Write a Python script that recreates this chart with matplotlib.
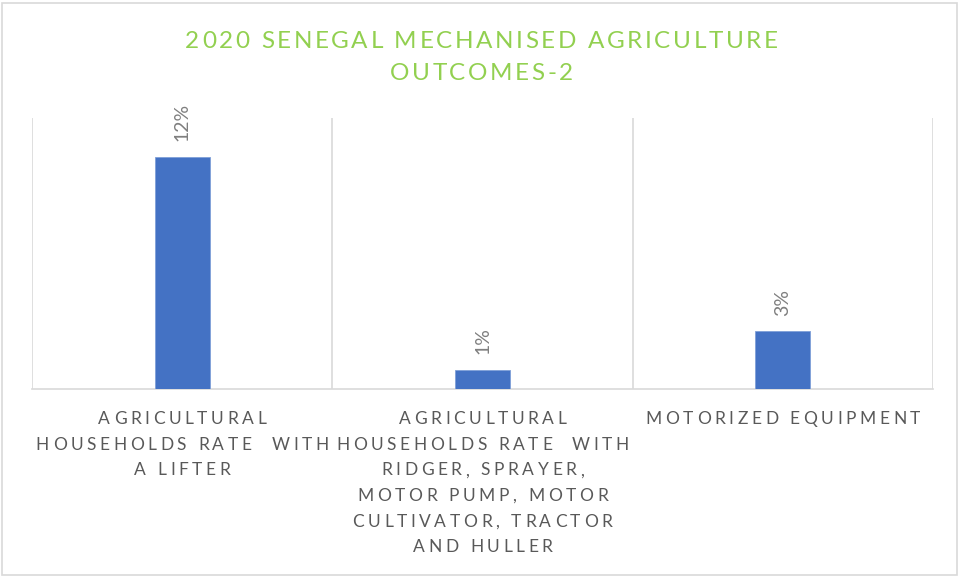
import matplotlib
matplotlib.use("Agg")
import matplotlib.pyplot as plt
from matplotlib.patches import Rectangle
from matplotlib.font_manager import FontProperties
from matplotlib.transforms import offset_copy, blended_transform_factory
import numpy as np

# outcome categories and their rates (%)
categories = [
    "AGRICULTURAL\nHOUSEHOLDS RATE  WITH\nA LIFTER",
    "AGRICULTURAL\nHOUSEHOLDS RATE  WITH\nRIDGER, SPRAYER,\nMOTOR PUMP, MOTOR\nCULTIVATOR, TRACTOR\nAND HULLER",
    "MOTORIZED EQUIPMENT",
]
rates = [12, 1, 3]
title = "2020 SENEGAL MECHANISED AGRICULTURE\nOUTCOMES-2"

FONT = ["Lato", "DejaVu Sans"]
plt.rcParams["font.family"] = FONT

fig = plt.figure(figsize=(9.63, 5.77), dpi=100)
renderer = fig.canvas.get_renderer()


def text_width(s, fp):
    # pad with a marker so trailing spaces are counted
    w, _, _ = renderer.get_text_width_height_descent(s + "|", fp, ismath=False)
    w0, _, _ = renderer.get_text_width_height_descent("|", fp, ismath=False)
    return w - w0


def tracked_text(x, y, s, trans, size, color, track, line_px):
    """Centered multi-line text with extra spacing between letters (all in pixels).
    y is the baseline of the first line."""
    fp = FontProperties(family=FONT, size=size)
    for i, line in enumerate(s.split("\n")):
        total = text_width(line, fp) + track * (len(line) - 1)
        for k, c in enumerate(line):
            if c == " ":
                continue
            dx = -total / 2 + text_width(line[:k], fp) + track * k
            t = offset_copy(trans, fig=fig, x=dx, y=-i * line_px, units="dots")
            fig.text(x, y, c, transform=t, ha="left", va="baseline",
                     fontproperties=fp, color=color)


ax = fig.add_axes([32 / 963, 1 - 389 / 577, 901 / 963, 271 / 577])

x = np.arange(len(categories))
ax.bar(x, rates, width=0.183, color="#4472C4", edgecolor="#7F9FD8", linewidth=0.6, zorder=3)

for xi, v in zip(x, rates):
    ax.annotate(f"{v}%", (xi, v), xytext=(0, 11), textcoords="offset points",
                rotation=90, ha="center", va="bottom", fontsize=14, color="#7F7F7F")

ax.set_xlim(-0.5, len(categories) - 0.5)
ax.set_ylim(0, 14)
ax.set_yticks([])
ax.set_xticks(x)
ax.set_xticklabels([])
ax.tick_params(axis="x", length=0)

# category labels under the axis, letter spaced
label_trans = blended_transform_factory(ax.transData, fig.transFigure)
for xi, c in zip(x, categories):
    tracked_text(xi, 1 - 424 / 577, c, label_trans, 12.5, "#595959", 3.6, 25.7)

# category separators
for b in np.arange(-0.5, len(categories), 1.0):
    ax.axvline(b, color="#D9D9D9", linewidth=1.2, zorder=1)

for side in ["top", "left", "right"]:
    ax.spines[side].set_visible(False)
ax.spines["bottom"].set_color("#D9D9D9")
ax.spines["bottom"].set_linewidth(1.2)

tracked_text(0.5, 1 - 47.5 / 577, title, fig.transFigure, 17.5, "#92D050", 2.6, 32.7)

# chart border
fig.patches.append(Rectangle((2 / 963, 2 / 577), 955 / 963, 572 / 577, transform=fig.transFigure,
                             fill=False, edgecolor="#D9D9D9", linewidth=1.2))

fig.savefig("out.png", dpi=100)
